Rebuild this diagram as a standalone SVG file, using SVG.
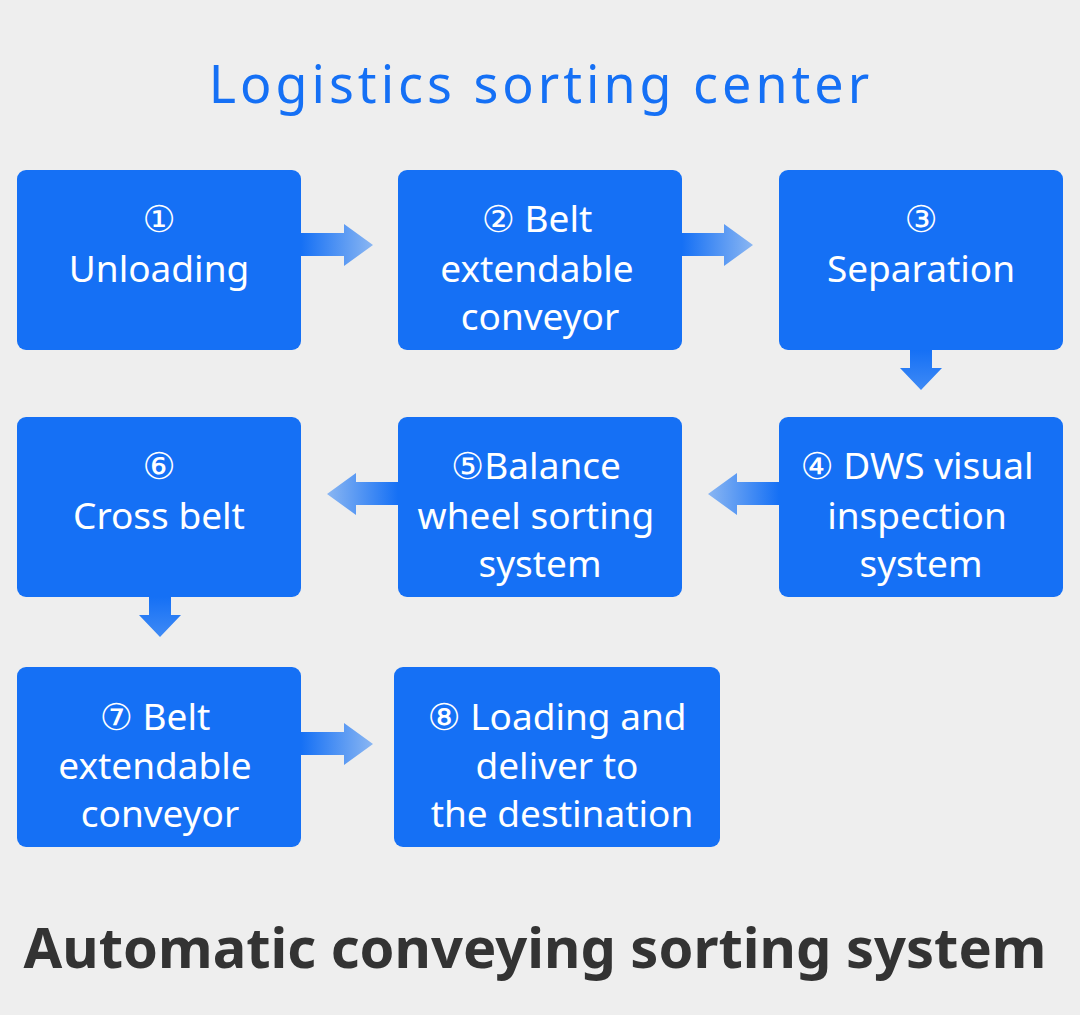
<svg xmlns="http://www.w3.org/2000/svg" width="1080" height="1015" viewBox="0 0 1080 1015">
<style>
.b{fill:#1570f5}
.t{fill:#fff;font-family:"Noto Sans","DejaVu Sans",sans-serif;font-size:37px;text-anchor:middle}
</style>
<defs>
<linearGradient id="gr" x1="0" y1="0" x2="1" y2="0"><stop offset="0" stop-color="#1570f5"/><stop offset="1" stop-color="#8ab6f2"/></linearGradient>
<linearGradient id="gl" x1="1" y1="0" x2="0" y2="0"><stop offset="0" stop-color="#1570f5"/><stop offset="1" stop-color="#8ab6f2"/></linearGradient>
<linearGradient id="gd" x1="0" y1="0" x2="0" y2="1"><stop offset="0" stop-color="#1570f5"/><stop offset="1" stop-color="#3f8af5"/></linearGradient>
</defs>
<rect width="1080" height="1015" fill="#eeeeee"/>
<text x="541" y="103" fill="#1570f5" font-family="'Noto Sans','DejaVu Sans',sans-serif" font-size="52" letter-spacing="4" text-anchor="middle">Logistics sorting center</text>
<g id="connectors">
<path d="M301 233H344V224L373 245L344 266V256H301Z" fill="url(#gr)"/>
<path d="M682 233H724V224L753 245L724 266V256H682Z" fill="url(#gr)"/>
<path d="M910 350H932V368H942L921 390L900 368H910Z" fill="url(#gd)"/>
<path d="M779 482H737V473L708 494L737 515V505H779Z" fill="url(#gl)"/>
<path d="M398 482H356V473L327 494L356 515V505H398Z" fill="url(#gl)"/>
<path d="M149 597H171V615H181L160 637L139 615H149Z" fill="url(#gd)"/>
<path d="M301 732H344V723L373 744L344 765V755H301Z" fill="url(#gr)"/>
</g>
<g id="n1"><rect class="b" x="17" y="170" width="284" height="180" rx="9"/><text class="t" x="159" y="232">①</text><text class="t" x="159" y="282">Unloading</text></g>
<g id="n2"><rect class="b" x="398" y="170" width="284" height="180" rx="9"/><text class="t" x="537" y="232">② Belt</text><text class="t" x="537" y="282">extendable</text><text class="t" x="540" y="330">conveyor</text></g>
<g id="n3"><rect class="b" x="779" y="170" width="284" height="180" rx="9"/><text class="t" x="921" y="232">③</text><text class="t" x="921" y="282">Separation</text></g>
<g id="n4"><rect class="b" x="779" y="417" width="284" height="180" rx="9"/><text class="t" x="917" y="479">④ DWS visual</text><text class="t" x="917" y="529">inspection</text><text class="t" x="921" y="577">system</text></g>
<g id="n5"><rect class="b" x="398" y="417" width="284" height="180" rx="9"/><text class="t" x="536" y="479">⑤Balance</text><text class="t" x="536" y="529">wheel sorting</text><text class="t" x="540" y="577">system</text></g>
<g id="n6"><rect class="b" x="17" y="417" width="284" height="180" rx="9"/><text class="t" x="159" y="479">⑥</text><text class="t" x="159" y="529">Cross belt</text></g>
<g id="n7"><rect class="b" x="17" y="667" width="284" height="180" rx="9"/><text class="t" x="155" y="730">⑦ Belt</text><text class="t" x="155" y="779">extendable</text><text class="t" x="160" y="827">conveyor</text></g>
<g id="n8"><rect class="b" x="394" y="667" width="326" height="180" rx="9"/><text class="t" x="557" y="730">⑧ Loading and</text><text class="t" x="557" y="779">deliver to</text><text class="t" x="562" y="827">the destination</text></g>
<text x="535" y="968" fill="#333333" font-family="'Noto Sans','DejaVu Sans',sans-serif" font-weight="bold" font-size="56" text-anchor="middle">Automatic conveying sorting system</text>
</svg>
